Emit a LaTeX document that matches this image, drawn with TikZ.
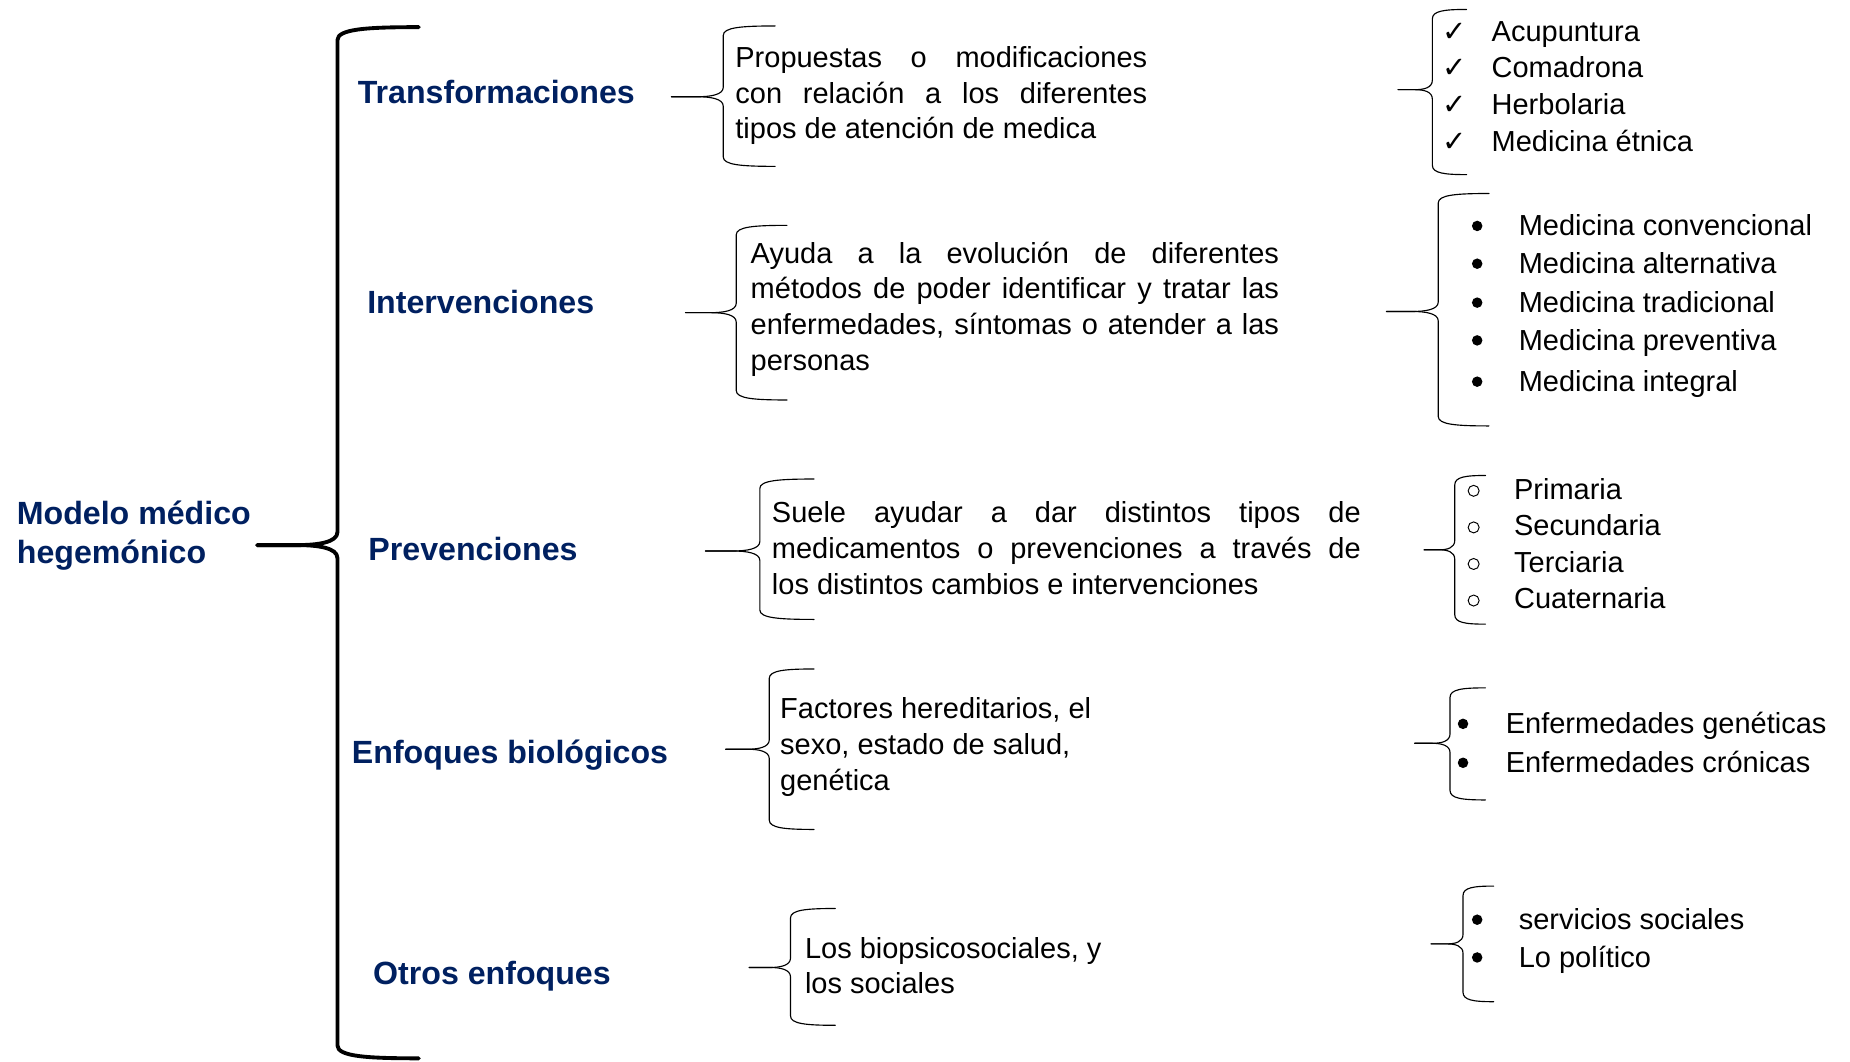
\documentclass[tikz,border=0pt]{standalone}
\usepackage{fontspec}
\setmainfont{Liberation Sans}
\newfontfamily\symfont{DejaVu Sans}
\definecolor{navy}{HTML}{002060}
\tikzset{
  cat/.style={anchor=base west, inner sep=0pt, text=navy, font=\fontsize{18.3}{22.5}\selectfont\bfseries},
  body/.style={anchor=base west, inner sep=0pt, font=\fontsize{16.5}{20.4}\selectfont},
  checkmark/.style={anchor=base, inner sep=0pt, font=\fontsize{16.5}{20.4}\selectfont\symfont},
  dotmark/.style={circle, fill=black, inner sep=0pt, minimum size=0.21cm},
  ringmark/.style={circle, draw=black, line width=0.55pt, inner sep=0pt, minimum size=0.22cm},
  bigbrace/.style={line width=2.2pt, line cap=round, line join=round},
  smallbrace/.style={line width=0.65pt, line cap=round},
}
% #1 style, #2 tipx, #3 tipy, #4 vx, #5 top, #6 bottom, #7 endx, #8 r
\newcommand\drawbrace[8]{%
  \draw[#1] (#7,#5) .. controls ({#4+0.35*(#7-#4)},#5) and (#4,{#5+0.15*#8}) .. (#4,{#5+#8})
     -- (#4,{#3-#8}) .. controls (#4,{#3-0.2*#8}) and ({#4-0.25*(#4-#2)},#3) .. ({#4-0.5*(#4-#2)},#3) -- (#2,#3);
  \draw[#1] (#2,#3) -- ({#4-0.5*(#4-#2)},#3) .. controls ({#4-0.25*(#4-#2)},#3) and (#4,{#3+0.2*#8}) .. (#4,{#3+#8})
     -- (#4,{#6-#8}) .. controls (#4,{#6-0.15*#8}) and ({#4+0.35*(#7-#4)},#6) .. (#7,#6);
}
\newcommand\jline[2]{\makebox[#1][s]{#2}}
\begin{document}
\begin{tikzpicture}[x=0.0236cm,y=-0.0236cm]
\useasboundingbox (0,0) rectangle (1568,900);

% root
\node[cat] (root) at (14,444.5) {\parbox[t]{6cm}{Modelo médico\\hegemónico}};
\drawbrace{bigbrace}{218}{462}{286}{23}{897}{355}{11}

% categories
\node[cat] (c1) at (303,88) {Transformaciones};
\node[cat] (c2) at (311,266) {Intervenciones};
\node[cat] (c3) at (312,475) {Prevenciones};
\node[cat] (c4) at (298,647) {Enfoques biológicos};
\node[cat] (c5) at (316,834) {Otros enfoques};

% middle braces
\drawbrace{smallbrace}{569}{82}{613}{22}{141}{657}{8}
\drawbrace{smallbrace}{581}{265}{624}{191}{339}{667}{8}
\drawbrace{smallbrace}{598}{467}{644}{406}{525}{690}{8}
\drawbrace{smallbrace}{615}{635}{652}{567}{703}{690}{8}
\drawbrace{smallbrace}{635}{820}{670}{770}{869}{708}{8}

% middle texts
\node[body] (t1) at (623,57) {\parbox[t]{8.24cm}{%
  \jline{8.24cm}{Propuestas o modificaciones}\\
  \jline{8.24cm}{con relación a los diferentes}\\
  tipos de atención de medica}};
\node[body] (t2) at (636,223) {\parbox[t]{10.57cm}{%
  \jline{10.57cm}{Ayuda a la evolución de diferentes}\\
  \jline{10.57cm}{métodos de poder identificar y tratar las}\\
  \jline{10.57cm}{enfermedades, síntomas o atender a las}\\
  personas}};
\node[body] (t3) at (654,443) {\parbox[t]{11.78cm}{%
  \jline{11.78cm}{Suele ayudar a dar distintos tipos de}\\
  \jline{11.78cm}{medicamentos o prevenciones a través de}\\
  los distintos cambios e intervenciones}};
\node[body] (t4) at (661,609) {\parbox[t]{9cm}{%
  Factores hereditarios, el\\
  sexo, estado de salud,\\
  genética}};
\node[body] (t5) at (682,812) {\parbox[t]{9cm}{%
  Los biopsicosociales, y\\
  los sociales}};

% right braces
\drawbrace{smallbrace}{1185}{76}{1214}{8}{148}{1243}{8}
\drawbrace{smallbrace}{1175}{264}{1219}{164}{361}{1262}{8}
\drawbrace{smallbrace}{1207}{466}{1233}{403}{529}{1259}{8}
\drawbrace{smallbrace}{1199}{630}{1229}{583}{678}{1259}{8}
\drawbrace{smallbrace}{1213}{800}{1240}{751}{849}{1266}{8}

% list 1
\foreach \yy/\txt [count=\i] in {35/Acupuntura,66/Comadrona,97/Herbolaria,128/Medicina étnica}{
  \node[checkmark] (k1\i) at (1233,\yy) {✓};
  \node[body] (a1\i) at (1264,\yy) {\txt};
}
% list 2
\foreach \yy/\txt [count=\i] in {200/Medicina convencional,232/Medicina alternativa,265/Medicina tradicional,297/Medicina preventiva,332/Medicina integral}{
  \node[dotmark] (k2\i) at (1252,\yy-8.5) {};
  \node[body] (a2\i) at (1287,\yy) {\txt};
}
% list 3
\foreach \yy/\txt [count=\i] in {423/Primaria,454/Secundaria,485/Terciaria,516/Cuaternaria}{
  \node[ringmark] (k3\i) at (1249,\yy-7) {};
  \node[body] (a3\i) at (1283,\yy) {\txt};
}
% list 4
\foreach \yy/\txt [count=\i] in {622/Enfermedades genéticas,655/Enfermedades crónicas}{
  \node[dotmark] (k4\i) at (1240,\yy-8.5) {};
  \node[body] (a4\i) at (1276,\yy) {\txt};
}
% list 5
\foreach \yy/\txt [count=\i] in {788/servicios sociales,820/Lo político}{
  \node[dotmark] (k5\i) at (1252,\yy-8.5) {};
  \node[body] (a5\i) at (1287,\yy) {\txt};
}
\end{tikzpicture}
\end{document}
